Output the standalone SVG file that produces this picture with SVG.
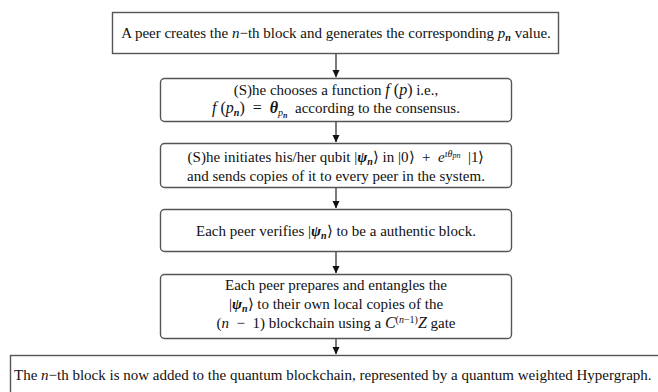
<svg xmlns="http://www.w3.org/2000/svg" width="658" height="392" viewBox="0 0 658 392">
<style>
.box{fill:#fff;stroke:#555;stroke-width:1.4}
.t{font-family:"Liberation Serif","Times New Roman",serif;font-size:15px;fill:#111}
.i{font-style:italic}
.b{font-weight:bold}
.m{font-size:16px}
.s{font-size:10px}
.ss{font-size:8px}
.c{stroke:#222;stroke-width:1.2;fill:none}
</style>
<defs>
<marker id="ah" markerWidth="8" markerHeight="8" refX="7" refY="4" orient="auto" markerUnits="userSpaceOnUse">
<path d="M0,0.5 L7.5,4 L0,7.5 Z" fill="#111"/>
</marker>
</defs>
<rect width="658" height="392" fill="#fff"/>
<g id="connectors">
<path class="c" d="M336,54 V77" marker-end="url(#ah)"/>
<path class="c" d="M336,122 V142" marker-end="url(#ah)"/>
<path class="c" d="M336,188 V208" marker-end="url(#ah)"/>
<path class="c" d="M336,252 V273" marker-end="url(#ah)"/>
<path class="c" d="M336,339 V354" marker-end="url(#ah)"/>
</g>
<g id="n1">
<rect class="box" x="112.500" y="12.500" width="446" height="41"/>
<text class="t" x="336" y="38" text-anchor="middle">A peer creates the <tspan class="i">n</tspan>−th block and generates the corresponding <tspan class="i">p</tspan><tspan class="i b s" dy="3">n</tspan><tspan dy="-3"> value.</tspan></text>
</g>
<g id="n2">
<rect class="box" x="160.500" y="78.500" width="351" height="43" rx="4"/>
<text class="t" x="336" y="95" text-anchor="middle">(S)he chooses a function <tspan class="i m">f</tspan><tspan class="m"> (</tspan><tspan class="i m">p</tspan><tspan class="m">)</tspan> i.e.,</text>
<text class="t" x="336" y="113" text-anchor="middle"><tspan class="i m">f</tspan><tspan class="m"> (</tspan><tspan class="i m">p</tspan><tspan class="i b s" dy="3">n</tspan><tspan class="m" dy="-3">)&#8194;=&#8194;</tspan><tspan class="i b m">θ</tspan><tspan class="i s" dy="3">p</tspan><tspan class="i b ss" dy="2">n</tspan><tspan dy="-5">&#8194;according to the consensus.</tspan></text>
</g>
<g id="n3">
<rect class="box" x="160.500" y="143.500" width="351" height="44" rx="4"/>
<text class="t" x="336" y="162" text-anchor="middle">(S)he initiates his/her qubit |<tspan class="i b">ψ</tspan><tspan class="i b s" dy="3">n</tspan><tspan dy="-3">⟩ in |0⟩&#8194;+&#8194;</tspan><tspan class="i">e</tspan><tspan class="i s" dy="-5">ιθ</tspan><tspan class="i ss" dy="1">pn</tspan><tspan dy="4">&#8194;|1⟩</tspan></text>
<text class="t" x="336" y="181" text-anchor="middle">and sends copies of it to every peer in the system.</text>
</g>
<g id="n4">
<rect class="box" x="160.500" y="209.500" width="351" height="42" rx="4"/>
<text class="t" x="336" y="236" text-anchor="middle">Each peer verifies |<tspan class="i b">ψ</tspan><tspan class="i b s" dy="3">n</tspan><tspan dy="-3">⟩ to be a authentic block.</tspan></text>
</g>
<g id="n5">
<rect class="box" x="160.500" y="274.500" width="351" height="64" rx="4"/>
<text class="t" x="336" y="290" text-anchor="middle">Each peer prepares and entangles the</text>
<text class="t" x="336" y="309" text-anchor="middle">|<tspan class="i b">ψ</tspan><tspan class="i b s" dy="3">n</tspan><tspan dy="-3">⟩ to their own local copies of the</tspan></text>
<text class="t" x="336" y="328" text-anchor="middle">(<tspan class="i">n</tspan>&#8194;−&#8194;1) blockchain using a <tspan class="i m">C</tspan><tspan class="s" dy="-5">(<tspan class="i">n</tspan>−1)</tspan><tspan class="i m" dy="5">Z</tspan> gate</text>
</g>
<g id="n6">
<rect class="box" x="10.500" y="355.500" width="660" height="50"/>
<text class="t" x="14" y="380">The <tspan class="i">n</tspan>−th block is now added to the quantum blockchain, represented by a quantum weighted Hypergraph.</text>
</g>
</svg>
